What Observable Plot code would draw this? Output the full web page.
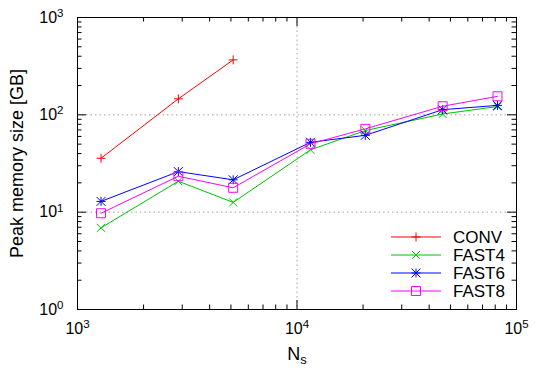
<!DOCTYPE html>
<html><head><meta charset="utf-8">
<script src="https://cdn.jsdelivr.net/npm/d3@7"></script>
<script src="https://cdn.jsdelivr.net/npm/@observablehq/plot@0.6"></script>
<style>body{margin:0;background:#fff}#chart{width:548px;height:383px}</style>
</head><body><div id="chart"></div>
<script>
// ---- data ----
const Ns = [1280, 2880, 5120, 11520, 20480, 46080, 81920];
const conv  = [35.8, 146, 367];
const fast4 = [6.9, 20.8, 12.6, 43.7, 69, 102, 121.7];
const fast6 = [12.9, 26.1, 21.5, 52.2, 61.6, 113, 125];
const fast8 = [9.75, 23.4, 17.8, 50.4, 71.8, 122.5, 155];
const seriesNames = ["CONV", "FAST4", "FAST6", "FAST8"];
const seriesValues = [conv, fast4, fast6, fast8];
const seriesColors = ["#ff0000", "#00c000", "#0000ff", "#ff00ff"];
const xMajor = [1e3, 1e4, 1e5];
const yMajor = [1, 10, 100, 1000];
const xGrid = [1e4];
const yGrid = [10, 100];
const xMinor = [2e3,3e3,4e3,5e3,6e3,7e3,8e3,9e3,2e4,3e4,4e4,5e4,6e4,7e4,8e4,9e4];
const yMinor = [2,3,4,5,6,7,8,9,20,30,40,50,60,70,80,90,200,300,400,500,600,700,800,900];
const xTitle = "N_s";
const yTitle = "Peak memory size [GB]";

// ---- symbols ----
const plusSym = {draw(c, s){const r=Math.sqrt(s/Math.PI);c.moveTo(-r,0);c.lineTo(r,0);c.moveTo(0,-r);c.lineTo(0,r);}};
const timesSym = {draw(c, s){const r=Math.sqrt(s/Math.PI);c.moveTo(-r,-r);c.lineTo(r,r);c.moveTo(-r,r);c.lineTo(r,-r);}};
const starSym = {draw(c, s){const r=Math.sqrt(s/Math.PI);c.moveTo(-r,0);c.lineTo(r,0);c.moveTo(0,-r);c.lineTo(0,r);c.moveTo(-r,-r);c.lineTo(r,r);c.moveTo(-r,r);c.lineTo(r,-r);}};
const squareSym = {draw(c, s){const r=Math.sqrt(s/Math.PI);c.rect(-r,-r,2*r,2*r);}};
const symbols = [plusSym, timesSym, starSym, squareSym];
const symR = [4.5, 4, 4.5, 4.5];

const W = 548, H = 383, mL = 77, mR = 32, mT = 17, mB = 74;
const fW = W - mL - mR, fH = H - mT - mB;
const majorLen = 9, minorLen = 4.5;

const tables = seriesNames.map((name, i) => seriesValues[i].map((v, j) => ({series: name, Ns: Ns[j], mem: v})));

const font = "'Liberation Sans', Arial, Helvetica, sans-serif";
const marks = [
  Plot.ruleX(xGrid, {x: d => d, stroke: "#a0a0a0", strokeDasharray: "1.5,3"}),
  Plot.ruleY(yGrid, {y: d => d, stroke: "#a0a0a0", strokeDasharray: "1.5,3"}),
  Plot.tickX(xMajor, {x: d => d, insetTop: fH - majorLen, stroke: "#000"}),
  Plot.tickX(xMajor, {x: d => d, insetBottom: fH - majorLen, stroke: "#000"}),
  Plot.tickX(xMinor, {x: d => d, insetTop: fH - minorLen, stroke: "#000"}),
  Plot.tickX(xMinor, {x: d => d, insetBottom: fH - minorLen, stroke: "#000"}),
  Plot.tickY(yMajor, {y: d => d, insetRight: fW - majorLen, stroke: "#000"}),
  Plot.tickY(yMajor, {y: d => d, insetLeft: fW - majorLen, stroke: "#000"}),
  Plot.tickY(yMinor, {y: d => d, insetRight: fW - minorLen, stroke: "#000"}),
  Plot.tickY(yMinor, {y: d => d, insetLeft: fW - minorLen, stroke: "#000"}),
];
tables.forEach((t, i) => {
  marks.push(Plot.line(t, {x: "Ns", y: "mem", stroke: seriesColors[i], strokeWidth: 1}));
  marks.push(Plot.dot(t, {x: "Ns", y: "mem", symbol: symbols[i], r: symR[i], stroke: seriesColors[i], fill: "none", strokeWidth: 1}));
});
marks.push(
  Plot.frame({stroke: "#000", strokeWidth: 1}),
  Plot.axisX(xMajor, {tickSize: 0, tickPadding: 13, fontSize: 16, tickFormat: d => "10^" + Math.round(Math.log10(d)), label: null}),
  Plot.axisY(yMajor, {tickSize: 0, tickPadding: 14, fontSize: 16, tickFormat: d => "10^" + Math.round(Math.log10(d)), label: null}),
  Plot.text([xTitle], {text: d => d, frameAnchor: "bottom", dy: 38, textAnchor: "middle", lineAnchor: "top", fontSize: 18}),
  Plot.text([yTitle], {text: d => d, frameAnchor: "left", dx: -60, rotate: -90, textAnchor: "middle", lineAnchor: "middle", fontSize: 18})
);

const plot = Plot.plot({
  width: W, height: H, marginLeft: mL, marginRight: mR, marginTop: mT, marginBottom: mB,
  x: {type: "log", domain: [1e3, 1e5]},
  y: {type: "log", domain: [1, 1e3]},
  style: {fontFamily: font, color: "#000", background: "#fff", overflow: "visible"},
  marks
});

// superscripts / subscripts as real text
d3.select(plot).selectAll("text").each(function() {
  const t = this.textContent;
  let m = t.match(/^10\^(-?\d+)$/);
  if (m) {
    this.textContent = "10";
    d3.select(this).append("tspan").attr("dy", "-0.5em").attr("font-size", "0.72em").text(m[1]);
    return;
  }
  m = t.match(/^(\w)_(\w)$/);
  if (m) {
    this.textContent = m[1];
    d3.select(this).append("tspan").attr("dy", "0.3em").attr("font-size", "0.72em").text(m[2]);
  }
});

// legend inside the plot
const svg = d3.select(plot.tagName.toLowerCase() === "svg" ? plot : plot.querySelector("svg"));
const lg = svg.append("g").attr("font-family", font).attr("font-size", 17).attr("text-anchor", "start");
seriesNames.forEach((name, i) => {
  const y = 237 + i * 18;
  lg.append("line").attr("x1", 391).attr("x2", 441).attr("y1", y).attr("y2", y).attr("stroke", seriesColors[i]);
  lg.append("path").attr("transform", `translate(416,${y})`)
    .attr("d", d3.symbol(symbols[i], Math.PI * symR[i] * symR[i])())
    .attr("stroke", seriesColors[i]).attr("fill", "none");
  lg.append("text").attr("x", 453).attr("y", y).attr("dy", "0.36em").text(name);
});

document.getElementById("chart").appendChild(plot);
</script>
</body></html>
